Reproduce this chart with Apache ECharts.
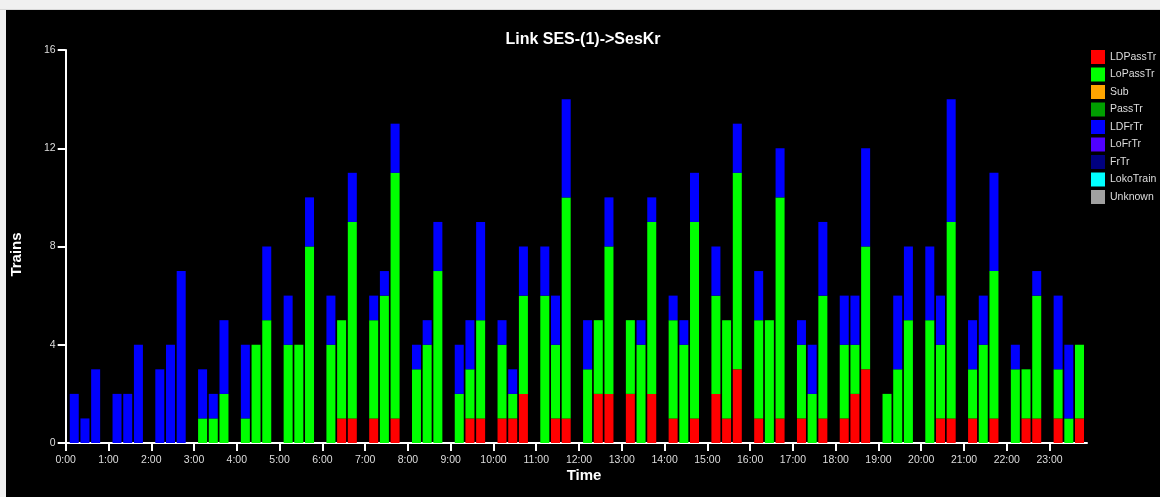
<!DOCTYPE html>
<html>
<head>
<meta charset="utf-8">
<script src="https://cdn.jsdelivr.net/npm/echarts@6/dist/echarts.min.js"></script>
<style>
html,body{margin:0;padding:0;background:#f0f0f0;width:1160px;height:497px;overflow:hidden;}
#strip{position:absolute;left:0;top:9px;width:1160px;height:1px;background:#d8d8d8;}
#c{position:absolute;left:6px;top:10px;width:1154px;height:487px;background:#000;}
</style>
</head>
<body>
<div id="strip"></div>
<div id="c"></div>
<script>
// 15-minute bins (bin start times)
const times = [
  '0:00','0:15','0:30','0:45','1:00','1:15','1:30','1:45','2:00','2:15','2:30','2:45',
  '3:00','3:15','3:30','3:45','4:00','4:15','4:30','4:45','5:00','5:15','5:30','5:45',
  '6:00','6:15','6:30','6:45','7:00','7:15','7:30','7:45','8:00','8:15','8:30','8:45',
  '9:00','9:15','9:30','9:45','10:00','10:15','10:30','10:45','11:00','11:15','11:30','11:45',
  '12:00','12:15','12:30','12:45','13:00','13:15','13:30','13:45','14:00','14:15','14:30','14:45',
  '15:00','15:15','15:30','15:45','16:00','16:15','16:30','16:45','17:00','17:15','17:30','17:45',
  '18:00','18:15','18:30','18:45','19:00','19:15','19:30','19:45','20:00','20:15','20:30','20:45',
  '21:00','21:15','21:30','21:45','22:00','22:15','22:30','22:45','23:00','23:15','23:30','23:45'
];
const LDPassTr = [
  0,0,0,0, 0,0,0,0, 0,0,0,0, 0,0,0,0, 0,0,0,0, 0,0,0,0,
  0,1,1,0, 1,0,1,0, 0,0,0,0, 0,1,1,0, 1,1,2,0, 0,1,1,0,
  0,2,2,0, 2,0,2,0, 1,0,1,0, 2,1,3,0, 1,0,1,0, 1,0,1,0,
  1,2,3,0, 0,0,0,0, 0,1,1,0, 1,0,1,0, 0,1,1,0, 1,0,1,0
];
const LoPassTr = [
  0,0,0,0, 0,0,0,0, 0,0,0,0, 1,1,2,0, 1,4,5,0, 4,4,8,0,
  4,4,8,0, 4,6,10,0, 3,4,7,0, 2,2,4,0, 3,1,4,0, 6,3,9,0,
  3,3,6,0, 3,4,7,0, 4,4,8,0, 4,4,8,0, 4,5,9,0, 3,2,5,0,
  3,2,5,0, 2,3,5,0, 5,3,8,0, 2,4,6,0, 3,2,5,0, 2,1,3,0
];
const Sub = [];
const PassTr = [];
const LDFrTr = [
  2,1,3,0, 2,2,4,0, 3,4,7,0, 2,1,3,0, 3,0,3,0, 2,0,2,0,
  2,0,2,0, 1,1,2,0, 1,1,2,0, 2,2,4,0, 1,1,2,0, 2,2,4,0,
  2,0,2,0, 0,1,1,0, 1,1,2,0, 2,0,2,0, 2,0,2,0, 1,2,3,0,
  2,2,4,0, 0,3,3,0, 3,2,5,0, 2,2,4,0, 1,0,1,0, 3,3,0,0
];
const LoFrTr = [];
const FrTr = [];
const LokoTrain = [];
const Unknown = [];

const hourLabels = ['0:00','1:00','2:00','3:00','4:00','5:00','6:00','7:00','8:00','9:00','10:00','11:00',
  '12:00','13:00','14:00','15:00','16:00','17:00','18:00','19:00','20:00','21:00','22:00','23:00'];
const yTicks = [0, 4, 8, 12, 16];

const seriesNames = ['LDPassTr','LoPassTr','Sub','PassTr','LDFrTr','LoFrTr','FrTr','LokoTrain','Unknown'];
const seriesValues = [LDPassTr, LoPassTr, Sub, PassTr, LDFrTr, LoFrTr, FrTr, LokoTrain, Unknown];
const seriesColors = ['#ff0000','#00ff00','#ffa500','#00a000','#0000ff','#5000ff','#000080','#00ffff','#a0a0a0'];

function toHours(t){ const p = t.split(':'); return (+p[0]) + (+p[1]) / 60; }
const hourValues = hourLabels.map(toHours);

// layout: hour-axis grid, and a bar grid whose 15-min bands sit slightly right of the hour ticks
const AX_LEFT = 59.7, AX_RIGHT = 73, TOP = 40, BOTTOM = 54, W = 1154;
const X_MAX = 23.875;
const pxPerHour = (W - AX_LEFT - AX_RIGHT) / X_MAX;
const BAND_SHIFT = 0.075; // hours
const barLeft = AX_LEFT + BAND_SHIFT * pxPerHour;
const barRight = W - barLeft - 24 * pxPerHour;

const FONT = '"Liberation Sans", Arial, sans-serif';
const chart = echarts.init(document.getElementById('c'), null, {renderer: 'canvas'});
chart.setOption({
  backgroundColor: '#000',
  animation: false,
  title: {
    text: 'Link SES-(1)->SesKr',
    left: 577, top: 22, textAlign: 'center', padding: 0,
    textStyle: {color: '#ffffff', fontSize: 16, fontWeight: 'bold', fontFamily: FONT}
  },
  legend: {
    orient: 'vertical', left: 1085, top: 40, padding: 0,
    itemWidth: 14, itemHeight: 14, itemGap: 3.5, icon: 'rect',
    selectedMode: false,
    textStyle: {color: '#dddddd', fontSize: 10.5, fontFamily: FONT},
    data: seriesNames
  },
  grid: [
    {left: AX_LEFT, right: AX_RIGHT, top: TOP, bottom: BOTTOM},
    {left: barLeft, right: barRight, top: TOP, bottom: BOTTOM}
  ],
  xAxis: [
    {
      gridIndex: 0, type: 'value', min: 0, max: X_MAX,
      axisLine: {show: true, lineStyle: {color: '#ffffff', width: 2}},
      axisTick: {show: true, length: 8, lineStyle: {color: '#ffffff', width: 2}, customValues: hourValues},
      axisLabel: {color: '#dddddd', fontSize: 10.5, fontFamily: FONT, margin: 12,
        customValues: hourValues, formatter: v => hourLabels[Math.round(v)]},
      splitLine: {show: false}
    },
    {gridIndex: 1, type: 'category', data: times, boundaryGap: true, show: false}
  ],
  yAxis: [
    {
      gridIndex: 0, type: 'value', min: 0, max: 16, interval: 4,
      axisLine: {show: true, lineStyle: {color: '#ffffff', width: 2}},
      axisTick: {show: true, length: 8, lineStyle: {color: '#ffffff', width: 2}},
      axisLabel: {color: '#dddddd', fontSize: 10.5, fontFamily: FONT, margin: 10},
      splitLine: {show: false}
    },
    {gridIndex: 1, type: 'value', min: 0, max: 16, interval: 4, show: false, splitLine: {show: false}}
  ],
  graphic: [
    {type: 'text', x: 10.7, y: 244.5, rotation: Math.PI / 2,
      style: {text: 'Trains', fill: '#ffffff', font: 'bold 15px ' + FONT, align: 'center', verticalAlign: 'middle'}},
    {type: 'text', x: 578, y: 466,
      style: {text: 'Time', fill: '#ffffff', font: 'bold 15px ' + FONT, align: 'center', verticalAlign: 'middle'}}
  ],
  series: seriesNames.map((name, k) => ({
    name: name,
    type: 'bar',
    xAxisIndex: 1, yAxisIndex: 1,
    stack: 'total',
    barWidth: 9,
    itemStyle: {color: seriesColors[k]},
    emphasis: {disabled: true},
    data: seriesValues[k]
  }))
});
</script>
</body>
</html>
